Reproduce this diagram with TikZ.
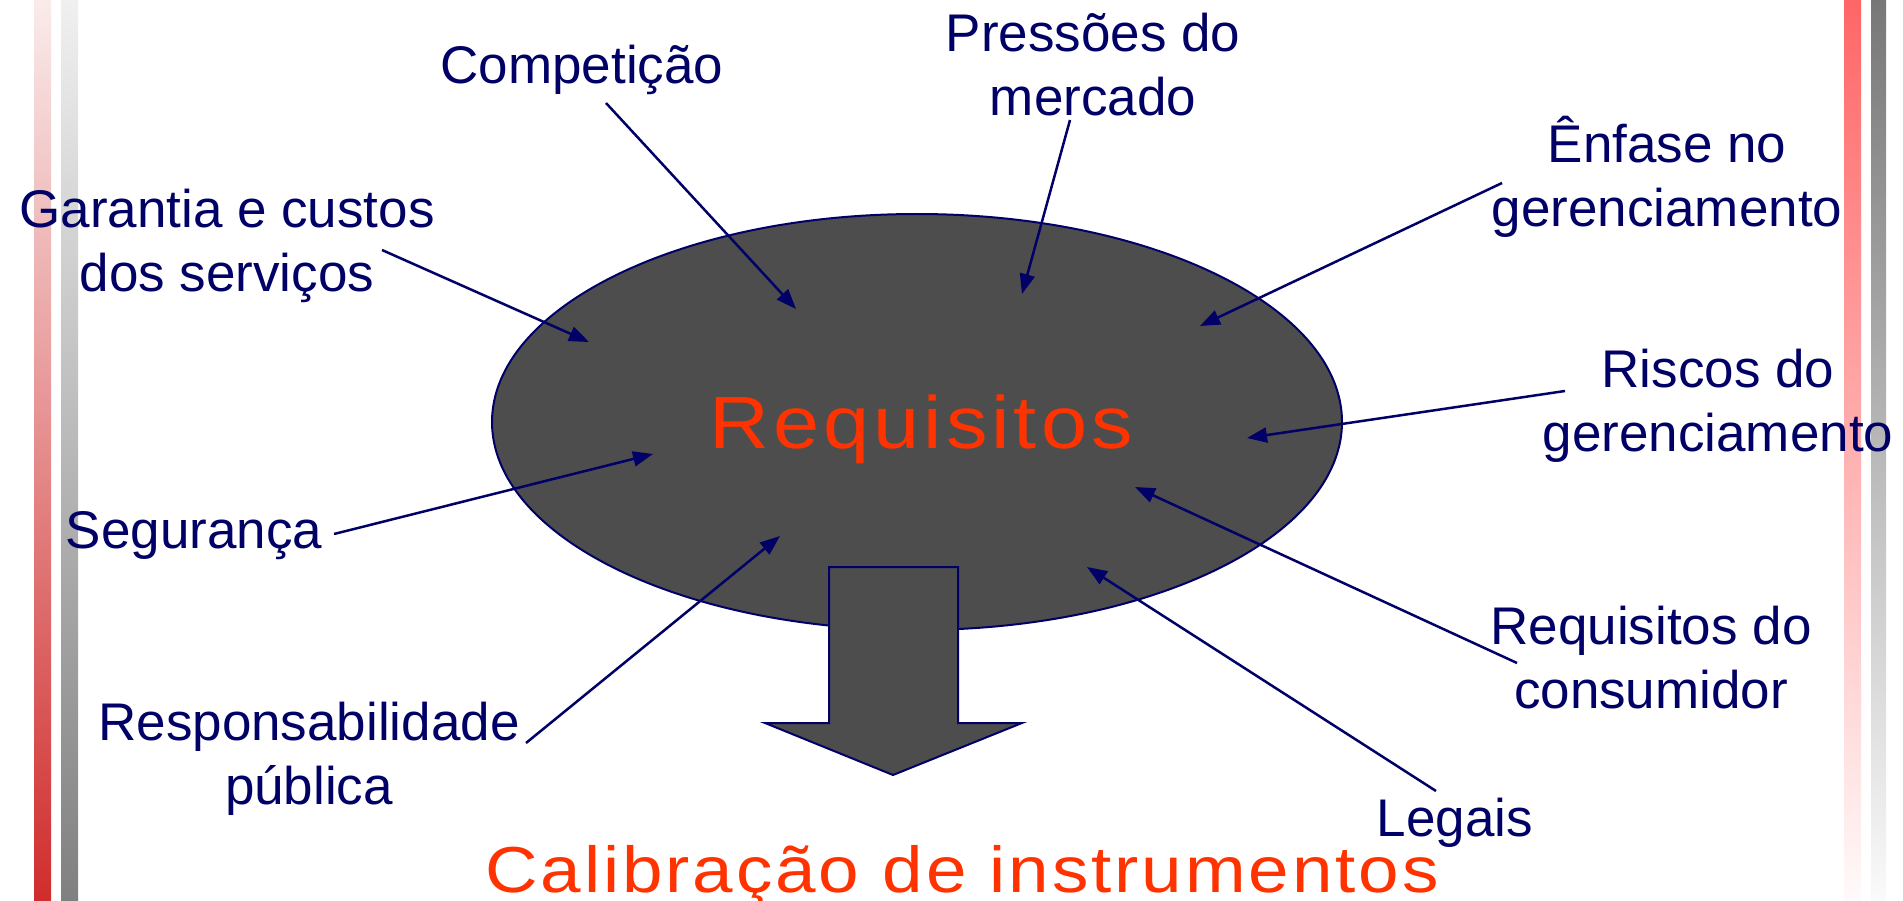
\documentclass[tikz,border=0pt]{standalone}
\usepackage{fontspec}
\setmainfont{Liberation Sans}
\newfontfamily\spacedfont[LetterSpace=4.5,FakeStretch=1.12]{Liberation Sans}
\newfontfamily\widefont[LetterSpace=5.5,FakeStretch=1.12]{Liberation Sans}
\usetikzlibrary{arrows.meta,shapes.geometric}
\definecolor{navy}{HTML}{000066}
\definecolor{ofill}{HTML}{4D4D4D}
\definecolor{ored}{HTML}{FF3300}
\newcommand\twolines[2]{\vtop{\halign{\hfil##\hfil\cr#1\cr#2\cr}}}
\begin{document}
\begin{tikzpicture}[x=1pt,y=-1pt,
  lbl/.style={text=navy, font=\fontsize{53}{64}\selectfont, inner sep=0pt, anchor=base},
  conn/.style={draw=navy, line width=2.5pt, -{Triangle[length=20pt,width=15pt]}},
  bigtext/.style={text=ored, inner sep=0pt, anchor=base},
]
\useasboundingbox (0,0) rectangle (1903,901);
% decorative bars
\shade[top color={rgb,255:red,250;green,235;blue,235}, bottom color={rgb,255:red,208;green,45;blue,45}] (34,0) rectangle (51,901);
\shade[top color={rgb,255:red,240;green,240;blue,240}, bottom color={rgb,255:red,128;green,128;blue,128}] (61,0) rectangle (78,901);
\shade[top color={rgb,255:red,255;green,102;blue,102}, bottom color={rgb,255:red,255;green,250;blue,250}] (1844,0) rectangle (1861,901);
\shade[top color={rgb,255:red,119;green,119;blue,119}, bottom color={rgb,255:red,250;green,250;blue,250}] (1871,0) rectangle (1886,901);

% ellipse
\node[ellipse, draw=navy, line width=2pt, fill=ofill, minimum width=850pt, minimum height=416pt, inner sep=0pt] (req) at (917,422) {};
\node[bigtext, font=\widefont\fontsize{74}{80}\selectfont] (reqt) at (921,448) {Requisitos};

% block arrow
\draw[fill=ofill, draw=navy, line width=2pt, line join=miter]
  (829,567) -- (958,567) -- (958,723) -- (1022,723) -- (893,775) -- (765,723) -- (829,723) -- cycle;

% labels
\node[lbl] (comp) at (582,84) {Competição};
\node[lbl] (press) at (1093,52) {\twolines{Pressões do}{mercado}};
\node[lbl] (enf) at (1667,163) {\twolines{Ênfase no}{gerenciamento}};
\node[lbl] (gar) at (227,228) {\twolines{Garantia e custos}{dos serviços}};
\node[lbl] (risc) at (1718,387) {\twolines{Riscos do}{gerenciamento}};
\node[lbl] (seg) at (194,548) {Segurança};
\node[lbl] (cons) at (1651,644) {\twolines{Requisitos do}{consumidor}};
\node[lbl] (resp) at (309,740) {\twolines{Responsabilidade}{pública}};
\node[lbl] (leg) at (1455,836) {Legais};

\node[bigtext, font=\spacedfont\fontsize{65}{70}\selectfont] (calib) at (962,892) {Calibração de instrumentos};

% connector end points
\coordinate (sComp) at (606,103);  \coordinate (eComp) at (796,309);
\coordinate (sPress) at (1070,120); \coordinate (ePress) at (1022,294);
\coordinate (sEnf) at (1502,183);  \coordinate (eEnf) at (1200,326);
\coordinate (sGar) at (382,250);   \coordinate (eGar) at (589,342);
\coordinate (sRisc) at (1565,391); \coordinate (eRisc) at (1247,438);
\coordinate (sSeg) at (334,534);   \coordinate (eSeg) at (653,454);
\coordinate (sResp) at (526,743);  \coordinate (eResp) at (780,536);
\coordinate (sCons) at (1517,663); \coordinate (eCons) at (1135,487);
\coordinate (sLeg) at (1436,791);  \coordinate (eLeg) at (1087,567);

\draw[conn] (sComp) -- (eComp);
\draw[conn] (sPress) -- (ePress);
\draw[conn] (sEnf) -- (eEnf);
\draw[conn] (sGar) -- (eGar);
\draw[conn] (sRisc) -- (eRisc);
\draw[conn] (sSeg) -- (eSeg);
\draw[conn] (sResp) -- (eResp);
\draw[conn] (sCons) -- (eCons);
\draw[conn] (sLeg) -- (eLeg);
\end{tikzpicture}
\end{document}
